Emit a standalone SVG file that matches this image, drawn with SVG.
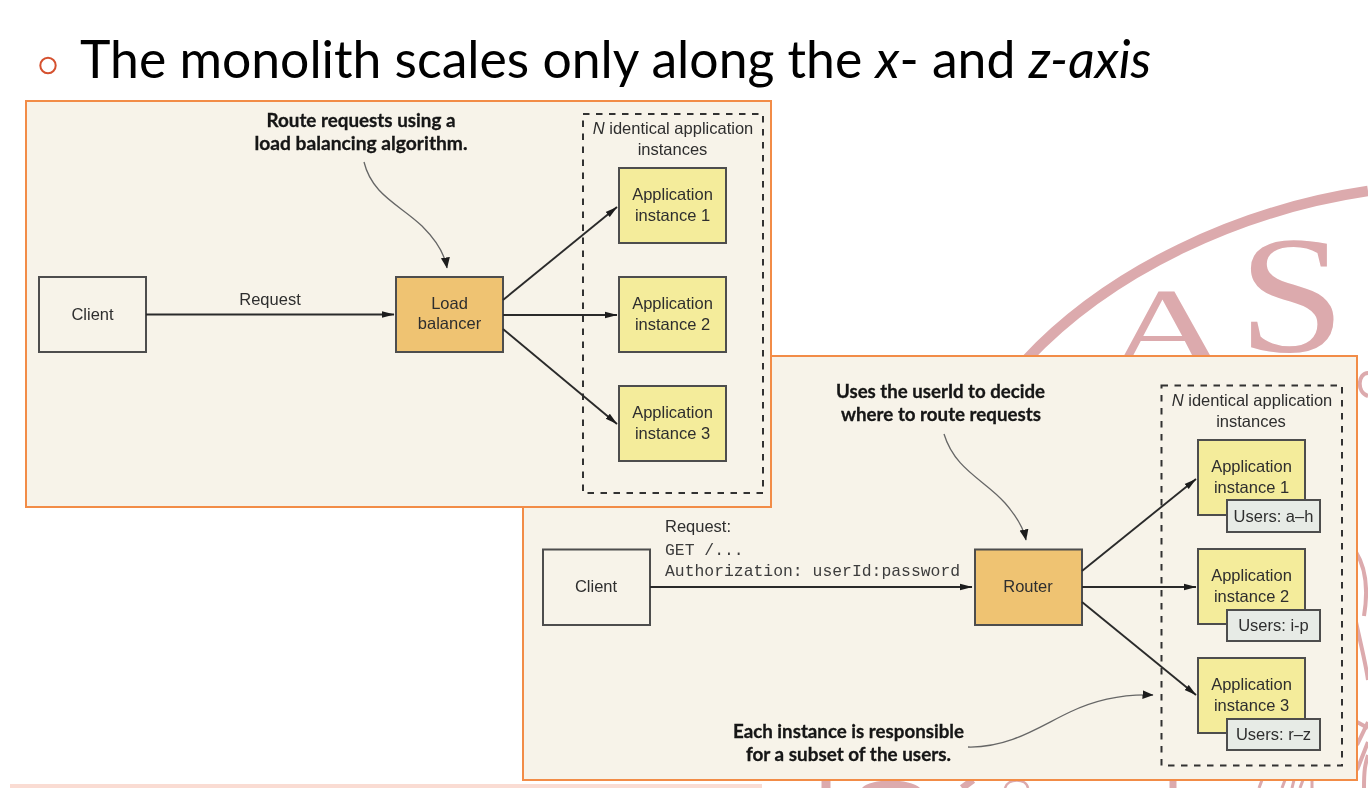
<svg xmlns="http://www.w3.org/2000/svg" width="1368" height="788" viewBox="0 0 1368 788">
<style>
.panel{fill:#f7f3e9;stroke:#f28c46;stroke-width:2}
.seal{fill:none;stroke:#dcaaad}
.sealt{fill:#dcaaad;font-family:"Liberation Serif",serif}
.box{stroke:#4d4d4d;stroke-width:2}
.client{fill:#f7f3e9}
.lb{fill:#efc372}
.app{fill:#f4ec9b}
.usr{fill:#e7ebe6}
.dash{fill:none;stroke:#333;stroke-width:2;stroke-dasharray:6.5 6.5}
text{font-family:"Liberation Sans",Arial,sans-serif}
.t{font-size:16.5px;fill:#2e2e2e;text-anchor:middle}
.m{font-family:"Liberation Mono","Courier New",monospace;font-size:16.4px;fill:#3c3c3c}
.c{font-family:Lato,"Noto Sans",sans-serif;font-weight:700;font-size:19px;fill:#141414;text-anchor:middle;stroke:#141414;stroke-width:.3}
.a{fill:none;stroke:#2b2b2b;stroke-width:1.9;marker-end:url(#ah)}
.g{fill:none;stroke:#666;stroke-width:1.3;marker-end:url(#ahg)}
</style>
<defs>
<marker id="ah" markerUnits="userSpaceOnUse" markerWidth="14" markerHeight="8" refX="12" refY="4" orient="auto"><path d="M0 .8L12.500 4L0 7.200Z" fill="#1c1c1c"/></marker>
<marker id="ahg" markerUnits="userSpaceOnUse" markerWidth="13" markerHeight="10" refX="10.500" refY="5" orient="auto"><path d="M0 .5L11 5L0 9.500Z" fill="#1c1c1c"/></marker>
<filter id="soft" filterUnits="userSpaceOnUse" x="0" y="0" width="1368" height="788"><feGaussianBlur stdDeviation="0.45"/></filter>
</defs>
<rect width="1368" height="788" fill="#fff"/>
<g id="seal">
<path class="seal" stroke-width="10.500" d="M1026 360C1110 270 1240 210 1368 191"/>
<text class="sealt" font-size="168" transform="translate(1238 351) scale(1.15 1)">S</text>
<text class="sealt" font-size="114" transform="translate(1106 367) scale(1.5 1)">A</text>
<path class="seal" stroke-width="4" d="M1368 373C1358 373 1356 392 1368 396"/>
<path class="seal" stroke-width="4" d="M1356 552C1367 570 1368 592 1364 616M1356 622C1362 650 1366 665 1368 680"/>
<path class="seal" stroke-width="4" d="M1357 722L1368 728M1357 770L1368 742M1357 745L1368 722M1364 788C1364 770 1365 765 1368 755"/>
<path class="seal" stroke-width="9" d="M826 780V788"/>
<path d="M862 788C870 778 910 778 920 788Z" fill="#dcaaad"/>
<path class="seal" stroke-width="7" d="M973 780L962 788"/>
<path class="seal" stroke-width="2.500" d="M1005 788C1008 778 1026 778 1028 788"/>
<path class="seal" stroke-width="7" d="M1173 780V788"/>
<path class="seal" stroke-width="3" d="M1262 780L1259 788M1285 780L1282 788M1294 780L1292 788M1303 780L1300 788M1312 780V788"/>
</g>
<rect id="footer-band" x="10" y="784" width="752" height="4" fill="#fadcd3"/>
<g id="title">
<circle cx="48" cy="65.500" r="7.700" fill="none" stroke="#d5512f" stroke-width="2"/>
<text x="80" y="78" font-size="51.700" fill="#000" style="font-family:Lato,'Open Sans',sans-serif">The monolith scales only along the <tspan font-style="italic">x</tspan>- and <tspan font-style="italic">z-axis</tspan></text>
</g>
<g filter="url(#soft)">
<g id="panel-z">
<rect class="panel" x="523" y="356" width="834" height="424"/>
</g>
<g id="z-instances">
<rect class="dash" x="1161.500" y="385.500" width="180.500" height="380"/>
<text class="t" x="1252" y="406"><tspan font-style="italic">N</tspan> identical application</text>
<text class="t" x="1251" y="427">instances</text>
</g>
<g id="z-client"><rect class="box client" x="543" y="549.500" width="107" height="75.500"/><text class="t" x="596" y="592">Client</text></g>
<g id="z-router"><rect class="box lb" x="975" y="549.500" width="107" height="75.500"/><text class="t" x="1028" y="592">Router</text></g>
<g id="z-app1"><rect class="box app" x="1198" y="440" width="107" height="75"/><text class="t" x="1251.500" y="472">Application</text><text class="t" x="1251.500" y="493">instance 1</text>
<rect class="box usr" x="1227" y="500" width="93" height="32"/><text class="t" x="1273.500" y="522">Users: a–h</text></g>
<g id="z-app2"><rect class="box app" x="1198" y="549" width="107" height="75"/><text class="t" x="1251.500" y="581">Application</text><text class="t" x="1251.500" y="602">instance 2</text>
<rect class="box usr" x="1227" y="610" width="93" height="31"/><text class="t" x="1273.500" y="631">Users: i-p</text></g>
<g id="z-app3"><rect class="box app" x="1198" y="658" width="107" height="75"/><text class="t" x="1251.500" y="690">Application</text><text class="t" x="1251.500" y="711">instance 3</text>
<rect class="box usr" x="1227" y="719" width="93" height="31"/><text class="t" x="1273.500" y="740">Users: r–z</text></g>
<g id="z-labels">
<text class="t" x="665" y="532" style="text-anchor:start">Request:</text>
<text class="m" x="665" y="555">GET /...</text>
<text class="m" x="665" y="576">Authorization: userId:password</text>
<text class="c" x="940.500" y="398" textLength="209" lengthAdjust="spacingAndGlyphs">Uses the userId to decide</text>
<text class="c" x="941" y="421" textLength="200" lengthAdjust="spacingAndGlyphs">where to route requests</text>
<text class="c" x="848.500" y="738" textLength="231" lengthAdjust="spacingAndGlyphs">Each instance is responsible</text>
<text class="c" x="848.500" y="761" textLength="205" lengthAdjust="spacingAndGlyphs">for a subset of the users.</text>
</g>
<g id="z-connectors">
<path class="a" d="M650 587H972"/>
<path class="a" d="M1082 571L1196 479"/>
<path class="a" d="M1082 587H1196"/>
<path class="a" d="M1082 602L1196 695"/>
<path class="g" d="M944 434C955 470 985 480 1005 503C1018 518 1024 530 1026 540"/>
<path class="g" d="M968 747C1010 748 1040 726 1070 712C1095 700 1125 694 1153 695"/>
</g>
<g id="panel-x">
<rect class="panel" x="26" y="101" width="745" height="406"/>
</g>
<g id="x-instances">
<rect class="dash" x="583" y="114" width="180" height="379"/>
<text class="t" x="673" y="134"><tspan font-style="italic">N</tspan> identical application</text>
<text class="t" x="672.500" y="155">instances</text>
</g>
<g id="x-client"><rect class="box client" x="39" y="277" width="107" height="75"/><text class="t" x="92.500" y="320">Client</text></g>
<g id="x-lb"><rect class="box lb" x="396" y="277" width="107" height="75"/><text class="t" x="449.500" y="309">Load</text><text class="t" x="449.500" y="329">balancer</text></g>
<g id="x-app1"><rect class="box app" x="619" y="168" width="107" height="75"/><text class="t" x="672.500" y="200">Application</text><text class="t" x="672.500" y="221">instance 1</text></g>
<g id="x-app2"><rect class="box app" x="619" y="277" width="107" height="75"/><text class="t" x="672.500" y="309">Application</text><text class="t" x="672.500" y="330">instance 2</text></g>
<g id="x-app3"><rect class="box app" x="619" y="386" width="107" height="75"/><text class="t" x="672.500" y="418">Application</text><text class="t" x="672.500" y="439">instance 3</text></g>
<g id="x-labels">
<text class="t" x="270" y="305">Request</text>
<text class="c" x="361" y="127" textLength="189" lengthAdjust="spacingAndGlyphs">Route requests using a</text>
<text class="c" x="361" y="150" textLength="213" lengthAdjust="spacingAndGlyphs">load balancing algorithm.</text>
</g>
<g id="x-connectors">
<path class="a" d="M146 314.500H394"/>
<path class="a" d="M503 300L617 207"/>
<path class="a" d="M503 315H617"/>
<path class="a" d="M503 329L617 424"/>
<path class="g" d="M364 162C372 195 400 205 422 226C438 242 445 255 447 268"/>
</g>
</g>
</svg>
